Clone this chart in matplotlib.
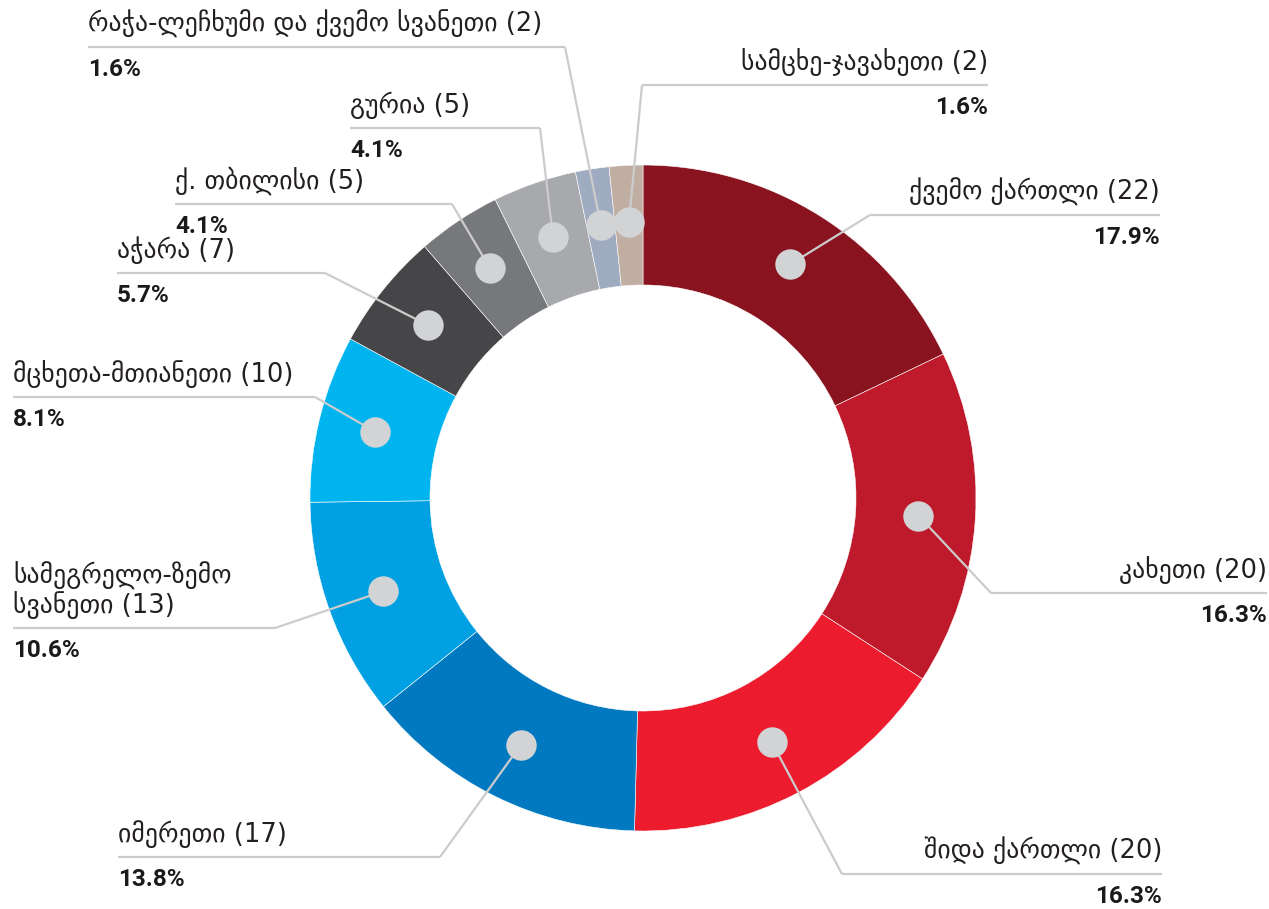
import numpy as np
import matplotlib.pyplot as plt

regions = ['ქვემო ქართლი', 'კახეთი', 'შიდა ქართლი', 'იმერეთი',
           'სამეგრელო-ზემო\nსვანეთი', 'მცხეთა-მთიანეთი', 'აჭარა',
           'ქ. თბილისი', 'გურია', 'რაჭა-ლეჩხუმი და ქვემო სვანეთი',
           'სამცხე-ჯავახეთი']
counts = [22, 20, 20, 17, 13, 10, 7, 5, 5, 2, 2]
colors = ['#8A1320', '#BE1A2B', '#EC1C2E', '#0079C1', '#00A0E3', '#00B5EF',
          '#464648', '#77787B', '#A7A9AC', '#9FABC0', '#C0AEA3']

# label layout in pixels from top-left: underline y, underline x-start, x-end, side
label_layout = [
    (215, 870, 1160, 'right'),
    (593, 991, 1267, 'right'),
    (874, 842, 1162, 'right'),
    (857, 118, 440, 'left'),
    (628, 13, 275, 'left'),
    (397, 13, 315, 'left'),
    (273, 117, 325, 'left'),
    (204, 175, 452, 'left'),
    (128, 350, 540, 'left'),
    (47, 88, 565, 'left'),
    (85, 642, 988, 'right'),
]

W, H = 1269, 909
cx, cy = 643, H - 498
R_out, R_in = 333, 213
line_col = '#CCCCCC'

fig = plt.figure(figsize=(W / 100, H / 100), dpi=100)
ax = fig.add_axes([0, 0, 1, 1])

wedges, _ = ax.pie(counts, colors=colors, startangle=90, counterclock=False,
                   radius=R_out, center=(cx, cy),
                   wedgeprops=dict(width=R_out - R_in, edgecolor='white', linewidth=0.4))

ax.set_xlim(0, W)
ax.set_ylim(0, H)
ax.set_aspect('equal')
ax.axis('off')

total = sum(counts)
r_dot = (R_out + R_in) / 2 + 3
for w, name, n, (ly, x0, x1, side) in zip(wedges, regions, counts, label_layout):
    mid = np.deg2rad((w.theta1 + w.theta2) / 2)
    dx, dy = cx + r_dot * np.cos(mid), cy + r_dot * np.sin(mid)
    y = H - ly
    ex = x0 if side == 'right' else x1
    ax.plot([dx, ex], [dy, y], color=line_col, lw=1.6, zorder=3, solid_capstyle='butt')
    ax.plot([x0, x1], [y, y], color=line_col, lw=1.6, zorder=3, solid_capstyle='butt')
    ax.scatter([dx], [dy], s=480, color='#D1D3D4', zorder=4, linewidths=0)

    tx = x1 if side == 'right' else x0
    ax.text(tx, y + 9, f'{name} ({n})', ha=side, va='bottom', fontsize=18.5,
            family=['DejaVu Sans'], color='#231F20', linespacing=1.05)
    ax.text(tx, y - 11, f'{n / total * 100:.1f}%', ha=side, va='top', fontsize=17.5,
            family=['Roboto', 'DejaVu Sans'], fontweight='bold', color='#1A1A1A')

fig.savefig('out.png', dpi=100)
